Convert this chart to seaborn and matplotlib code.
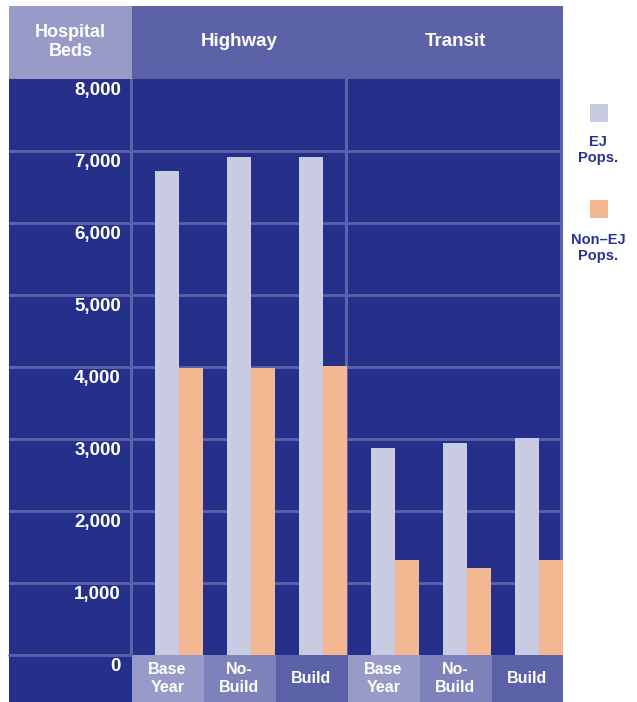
import matplotlib
matplotlib.use("Agg")
import matplotlib.pyplot as plt
from matplotlib.patches import Rectangle
import pandas as pd
import seaborn as sns

# ---- data -------------------------------------------------------------
modes = ["Highway", "Transit"]
scenarios = ["Base Year", "No-Build", "Build"]
scenario_labels = ["Base\nYear", "No-\nBuild", "Build"]
ej_beds = [6720, 6920, 6920, 2875, 2945, 3015]
non_ej_beds = [3985, 3985, 4015, 1320, 1210, 1320]
groups = ["EJ\nPops.", "Non\u2013EJ\nPops."]
y_ticks = [0, 1000, 2000, 3000, 4000, 5000, 6000, 7000, 8000]

# ---- style ------------------------------------------------------------
sns.set_theme(style="white")
plt.rcParams["font.family"] = ["Liberation Sans", "DejaVu Sans"]
plt.rcParams["font.weight"] = "bold"

NAVY = "#25308a"
GRID = "#5b63ab"
HEAD_LIGHT = "#989bc8"
HEAD_MID = "#7e82bb"
HEAD_DARK = "#5c62a8"
EJ_COL = "#c8cbe1"
NONEJ_COL = "#f3b891"
LEG_TEXT = "#283390"

W, H = 637, 702
fig = plt.figure(figsize=(W / 100, H / 100), dpi=100)
fig.patch.set_facecolor("white")


def fx(p):
    return p / W


def fy(p):
    return 1 - p / H


def box(x0, y0, x1, y1, color):
    fig.add_artist(Rectangle((fx(x0), fy(y1)), (x1 - x0) / W, (y1 - y0) / H,
                             transform=fig.transFigure, facecolor=color,
                             edgecolor="none", zorder=0))


# ---- long-form table for seaborn ---------------------------------------
cases = [f"{m} {s}" for m in modes for s in scenarios]
df = pd.DataFrame({
    "case": cases * 2,
    "beds": ej_beds + non_ej_beds,
    "group": [groups[0]] * len(cases) + [groups[1]] * len(cases),
})

# ---- main plotting area --------------------------------------------------
left_px, right_px, top_px, bot_px = 9, 563, 79, 655
ax = fig.add_axes([fx(left_px), fy(bot_px), (right_px - left_px) / W,
                   (bot_px - top_px) / H])
ax.set_facecolor(NAVY)

sns.barplot(data=df, x="case", y="beds", hue="group", order=cases,
            hue_order=groups, palette=[EJ_COL, NONEJ_COL], width=2 / 3,
            linewidth=0, saturation=1, legend=False, ax=ax, zorder=3)

slot_px = 72
x_left = -2 / 3 - (131 - left_px) / slot_px
ax.set_xlim(x_left, 5 + 1 / 3)
ax.set_ylim(0, 8000)
for s in ax.spines.values():
    s.set_visible(False)
ax.set_xticks([])
ax.set_yticks([])
ax.set_xlabel("")
ax.set_ylabel("")

# gridlines across the value column and the bars
for v in y_ticks[1:-1]:
    ax.axhline(v, color=GRID, lw=2, zorder=1)
# panel dividers
ax.axvline(-2 / 3, color=GRID, lw=2.2, zorder=1)
ax.axvline(7 / 3 - 0.02, color=GRID, lw=2.2, zorder=1)
ax.axvline(16 / 3 - 0.025, color=GRID, lw=2.2, zorder=1)

# value labels in the left column
for v in y_ticks:
    fig.text(fx(121), fy(bot_px - v * (bot_px - top_px) / 8000 + 11.5),
             f"{v:,}", ha="right", va="center", color="white",
             fontsize=13.5, fontweight="bold")

# ---- header row -----------------------------------------------------------
box(9, 6, 132, 79, HEAD_LIGHT)
box(132, 6, 563, 79, HEAD_DARK)
fig.text(fx(70.5), fy(42), "Hospital\nBeds", ha="center", va="center",
         color="white", fontsize=13, fontweight="bold", linespacing=1.1)
fig.text(fx(239), fy(42), modes[0], ha="center", va="center",
         color="white", fontsize=13.5, fontweight="bold")
fig.text(fx(455), fy(42), modes[1], ha="center", va="center",
         color="white", fontsize=13.5, fontweight="bold")

# ---- bottom row (scenario labels) ----------------------------------------
box(9, 655, 133, 702, NAVY)
fig.add_artist(plt.Line2D([fx(9), fx(131)], [fy(655), fy(655)],
                          transform=fig.transFigure, color=GRID, lw=2))
shades = [HEAD_LIGHT, HEAD_MID, HEAD_DARK]
for k in range(6):
    x0 = 131.5 + slot_px * k
    box(x0, 655, min(x0 + slot_px, 563), 702, shades[k % 3])
    fig.text(fx(x0 + slot_px / 2), fy(678.5), scenario_labels[k % 3],
             ha="center", va="center", color="white", fontsize=11.5,
             fontweight="bold", linespacing=1.2)

# ---- legend -----------------------------------------------------------------
for (sq_y, txt_y), lab, col in zip([(104, 150), (200, 248)], groups,
                                   [EJ_COL, NONEJ_COL]):
    box(590, sq_y, 608, sq_y + 18, col)
    fig.text(fx(598), fy(txt_y), lab, ha="center", va="center",
             color=LEG_TEXT, fontsize=10.5, fontweight="bold",
             linespacing=1.2)

fig.savefig("out.png", dpi=100, facecolor="white")
